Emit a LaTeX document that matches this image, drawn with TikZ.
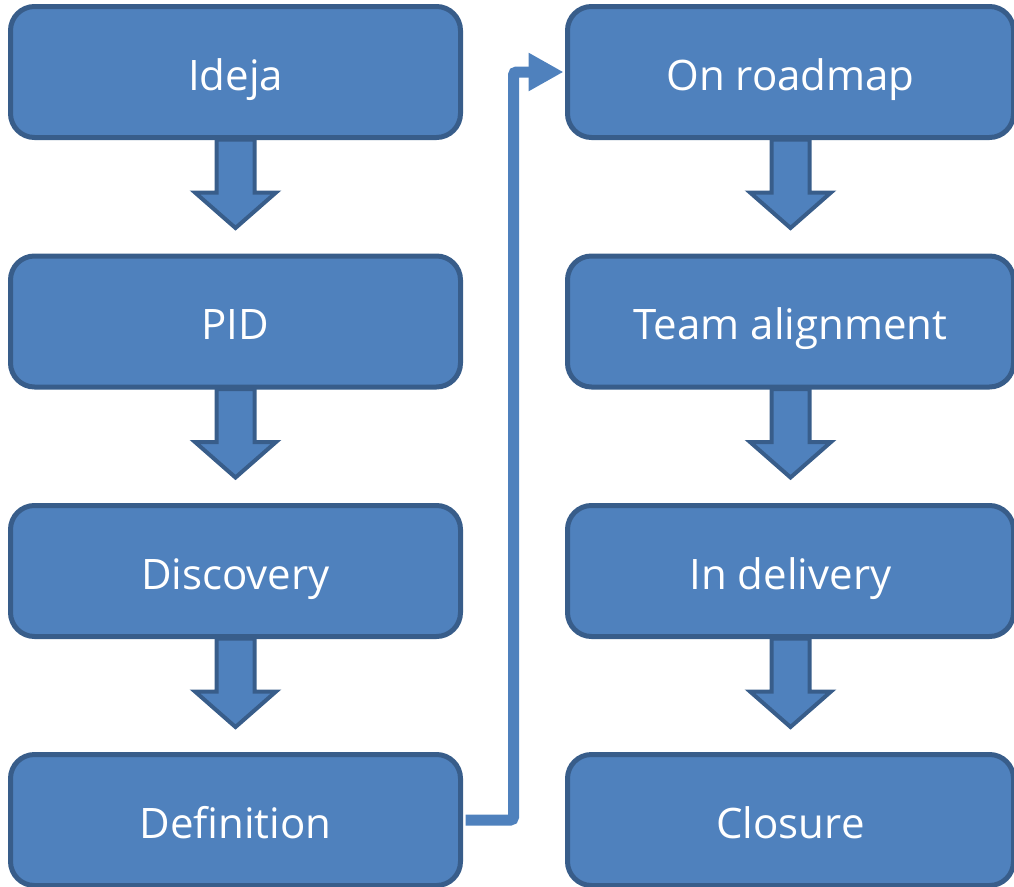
\documentclass[tikz,border=0pt]{standalone}
\usepackage{fontspec}
\setmainfont{Open Sans}
\usetikzlibrary{calc,arrows.meta}
\definecolor{boxfill}{HTML}{4F81BD}
\definecolor{boxline}{HTML}{385D8A}
\tikzset{
  stagebox/.style={draw=boxline, fill=boxfill, line width=5pt, rounded corners=24pt,
    minimum width=450pt, minimum height=131pt, inner sep=0pt, text=white,
    text height=36pt, text depth=0pt,
    font=\fontsize{42}{50}\selectfont},
  blockarrow/.style={draw=boxline, fill=boxfill, line width=4pt, line join=miter},
  conn/.style={draw=boxfill, line width=11pt, rounded corners=3pt,
    -{Triangle[length=35pt,width=36pt]}}
}
\newcommand\stagearrow[1]{%
  \draw[blockarrow] ($(#1.south)+(-19,-0.5)$) -- ++(0,53) -- ++(-21.5,0)
    -- ($(#1.south)+(0,88)$) -- ($(#1.south)+(40.5,52.5)$) -- ++(-21.5,0)
    -- ($(#1.south)+(19,-0.5)$) -- cycle;}
\begin{document}
\begin{tikzpicture}[x=1pt,y=-1pt]
\useasboundingbox (0,0) rectangle (1014,886);
\node[stagebox] (ideja) at (235.5,72) {Ideja};
\node[stagebox] (pid) at (235.5,321.5) {PID};
\node[stagebox] (disc) at (235.5,571) {Discovery};
\node[stagebox] (def) at (235.5,820) {Definition};
\node[stagebox, minimum width=446pt] (road) at (790.5,72) {On roadmap};
\node[stagebox, minimum width=446pt] (team) at (790.5,321.5) {Team alignment};
\node[stagebox, minimum width=446pt] (deliv) at (790.5,571) {In delivery};
\node[stagebox, minimum width=446pt] (clos) at (790.5,820) {Closure};
\stagearrow{ideja}
\stagearrow{pid}
\stagearrow{disc}
\stagearrow{road}
\stagearrow{team}
\stagearrow{deliv}
\coordinate (bend) at (513.5,820);
\draw[conn] ([xshift=2.5pt]def.east) -- (bend) |- ([xshift=-1.5pt]road.west);
\end{tikzpicture}
\end{document}
